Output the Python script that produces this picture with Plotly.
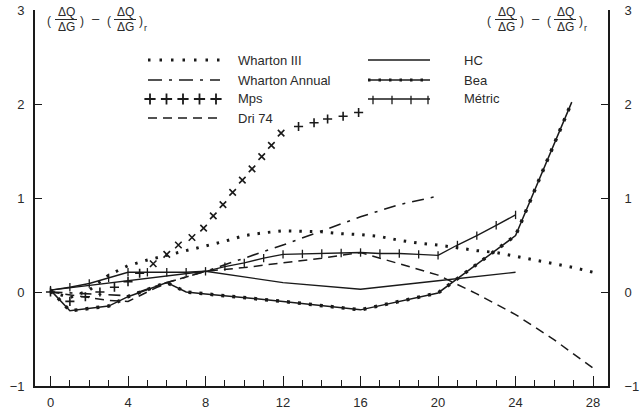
import plotly.graph_objects as go

# ---------------- data ----------------
wharton3_x = [0, 1, 2, 3, 4, 5, 6, 7, 8, 9, 10, 11, 12, 13, 14, 15, 16, 17, 18, 19, 20, 21, 22, 23, 24, 25, 26, 27, 28]
wharton3_y = [0, -0.06, 0.02, 0.18, 0.28, 0.34, 0.39, 0.44, 0.49, 0.54, 0.60, 0.63, 0.65, 0.645, 0.64, 0.62, 0.61, 0.59, 0.55, 0.52, 0.50, 0.47, 0.44, 0.42, 0.38, 0.34, 0.30, 0.26, 0.21]

wannual_x = [0, 2, 4, 6, 8, 10, 12, 14, 16, 18, 20]
wannual_y = [0, -0.02, -0.04, 0.10, 0.22, 0.36, 0.50, 0.65, 0.80, 0.93, 1.02]

mps_x = [0, 1.0, 1.8, 2.55, 3.3, 4.0, 4.6, 5.3, 6.0, 6.6, 7.3, 7.9, 8.4, 8.9, 9.4, 9.9, 10.4, 10.9, 11.4, 11.9, 12.8, 13.6, 14.3, 15.1, 15.9]
mps_y = [0, -0.10, -0.05, 0.0, 0.05, 0.11, 0.20, 0.30, 0.40, 0.50, 0.58, 0.68, 0.81, 0.93, 1.06, 1.19, 1.31, 1.44, 1.56, 1.69, 1.76, 1.80, 1.84, 1.87, 1.91]

dri_x = [0, 1, 2, 3, 4, 5, 6, 7, 8, 10, 12, 14, 16, 18, 20, 22, 24, 26, 28]
dri_y = [0, -0.03, -0.06, -0.09, -0.10, 0.0, 0.10, 0.16, 0.22, 0.26, 0.31, 0.36, 0.42, 0.30, 0.18, -0.02, -0.24, -0.51, -0.81]

hc_x = [0, 4, 8, 12, 16, 20, 24]
hc_y = [0.02, 0.12, 0.22, 0.10, 0.03, 0.12, 0.21]

bea_x = [0, 1, 3, 4, 6, 7, 8, 12, 16, 20, 24, 26.9]
bea_y = [0.02, -0.20, -0.15, -0.05, 0.10, 0.0, -0.02, -0.10, -0.19, -0.01, 0.60, 2.02]

metric_x = [0, 1, 2, 3, 4, 5, 6, 7, 8, 9, 10, 11, 12, 13, 14, 15, 16, 17, 18, 19, 20, 21, 22, 23, 24]
metric_y = [0.02, 0.05, 0.09, 0.15, 0.21, 0.21, 0.21, 0.21, 0.22, 0.27, 0.31, 0.36, 0.40, 0.405, 0.41, 0.415, 0.42, 0.41, 0.41, 0.40, 0.39, 0.50, 0.60, 0.71, 0.82]

x_ticks = [0, 4, 8, 12, 16, 20, 24, 28]
y_ticks = [-1, 0, 1, 2, 3]
y_ticktext = ["\u22121", "0", "1", "2", "3"]

legend_left = ["Wharton III", "Wharton Annual", "Mps", "Dri 74"]
legend_right = ["HC", "Bea", "Métric"]

# ---------------- layout geometry (pixels) ----------------
W, H = 643, 412
L, R, T, B = 35, 35, 10, 26
PL, PR, PT, PB = L, W - R, T, H - B
INK = "#1a1a1a"
TXT = "#2a2a2a"
FONT = "Liberation Sans, Arial, sans-serif"


def px(x):
    return (x - PL) / (PR - PL)


def py(y):
    return (PB - y) / (PB - PT)


fig = go.Figure()

# Wharton III - dotted
fig.add_trace(go.Scatter(x=wharton3_x, y=wharton3_y, mode="lines",
                         line=dict(color=INK, width=3, dash="2.5px,8px"), showlegend=False))
# Wharton Annual - dash dot
fig.add_trace(go.Scatter(x=wannual_x, y=wannual_y, mode="lines",
                         line=dict(color=INK, width=1.6, dash="12px,7px,3px,7px"), showlegend=False))
# Mps - crosses
mps_sym = ["x-thin-open" if 5 < xv < 12.5 else "cross-thin-open" for xv in mps_x]
fig.add_trace(go.Scatter(x=mps_x, y=mps_y, mode="markers",
                         marker=dict(symbol=mps_sym, size=6.5, color=INK,
                                     line=dict(color=INK, width=1.6)),
                         showlegend=False))
# Dri 74 - dashed
fig.add_trace(go.Scatter(x=dri_x, y=dri_y, mode="lines",
                         line=dict(color=INK, width=1.5, dash="9px,6px"), showlegend=False))
# HC - solid
fig.add_trace(go.Scatter(x=hc_x, y=hc_y, mode="lines",
                         line=dict(color=INK, width=1.4), showlegend=False))
# Bea - solid with dots
fig.add_trace(go.Scatter(x=bea_x, y=bea_y, mode="lines",
                         line=dict(color=INK, width=1.5), showlegend=False))
fig.add_trace(go.Scatter(x=bea_x, y=bea_y, mode="lines",
                         line=dict(color=INK, width=3.5, dash="3px,8px"), showlegend=False))
# Metric - solid with ticks
fig.add_trace(go.Scatter(x=metric_x, y=metric_y, mode="lines+markers",
                         line=dict(color=INK, width=1.4),
                         marker=dict(symbol="line-ns", size=6, color=INK,
                                     line=dict(color=INK, width=1.3)),
                         showlegend=False))

# ---------------- legend (pixel overlay axes) ----------------
lx0, lx1, ltx = 148, 220, 236
rx0, rx1, rtx = 368, 430, 462
rows = [60, 80, 99, 118]

def leg(xs, ys, **kw):
    fig.add_trace(go.Scatter(x=xs, y=ys, xaxis="x2", yaxis="y3", showlegend=False,
                             hoverinfo="skip", **kw))

leg([lx0, lx1], [rows[0]] * 2, mode="lines", line=dict(color=INK, width=3, dash="2.5px,9px"))
leg([lx0, lx1], [rows[1]] * 2, mode="lines", line=dict(color=INK, width=1.6, dash="14px,7px,3px,7px"))
leg([lx0 + 2 + 16.5 * i for i in range(5)], [rows[2]] * 5, mode="markers",
    marker=dict(symbol="cross-thin-open", size=8, color=INK, line=dict(color=INK, width=1.8)))
leg([lx0, lx1], [rows[3]] * 2, mode="lines", line=dict(color=INK, width=1.5, dash="9px,6px"))

leg([rx0, rx1], [rows[0]] * 2, mode="lines", line=dict(color=INK, width=1.4))
leg([rx0, rx1], [rows[1]] * 2, mode="lines", line=dict(color=INK, width=1.4))
leg([rx0, rx1], [rows[1]] * 2, mode="lines", line=dict(color=INK, width=3, dash="2.5px,8px"))
leg([rx0 + 5, rx0 + 24, rx0 + 43, rx1 - 2], [rows[2] + 1] * 4, mode="markers",
    marker=dict(symbol="line-ns", size=6, color=INK, line=dict(color=INK, width=1.3)))
leg([rx0, rx1], [rows[2]] * 2, mode="lines", line=dict(color=INK, width=1.4))

annotations = []
for i, t in enumerate(legend_left):
    annotations.append(dict(x=px(ltx), y=py(rows[i]), xref="paper", yref="paper", text=t,
                            showarrow=False, xanchor="left", yanchor="middle",
                            font=dict(size=13, color=TXT, family=FONT)))
for i, t in enumerate(legend_right):
    annotations.append(dict(x=px(rtx), y=py(rows[i]), xref="paper", yref="paper", text=t,
                            showarrow=False, xanchor="left", yanchor="middle",
                            font=dict(size=13, color=TXT, family=FONT)))

# ---------------- axis title fractions ----------------
shapes = []

def txt(x, y, t, size=12, anchor="center"):
    annotations.append(dict(x=px(x), y=py(y), xref="paper", yref="paper", text=t,
                            showarrow=False, xanchor=anchor, yanchor="middle",
                            borderpad=0, font=dict(size=size, color=TXT, family=FONT)))

def frac_block(x0):
    # x0 = position of the first "("
    txt(x0, 21, "(", 12, "right")
    txt(x0 + 14, 12, "ΔQ", 12)
    shapes.append(dict(type="line", xref="paper", yref="paper",
                       x0=px(x0 + 3), x1=px(x0 + 25), y0=py(19.5), y1=py(19.5),
                       line=dict(color=TXT, width=1)))
    txt(x0 + 14, 27, "ΔG", 12)
    txt(x0 + 27, 21, ")", 12, "left")
    txt(x0 + 44, 19, "\u2013", 13)
    txt(x0 + 60, 21, "(", 12, "right")
    txt(x0 + 73, 12, "ΔQ", 12)
    shapes.append(dict(type="line", xref="paper", yref="paper",
                       x0=px(x0 + 62), x1=px(x0 + 84), y0=py(19.5), y1=py(19.5),
                       line=dict(color=TXT, width=1)))
    txt(x0 + 73, 27, "ΔG", 12)
    txt(x0 + 86, 21, ")", 12, "left")
    txt(x0 + 91, 28, "r", 9, "left")

frac_block(52)
frac_block(492)

axis_font = dict(size=13, color=TXT, family=FONT)

fig.update_layout(
    width=W, height=H,
    margin=dict(l=L, r=R, t=T, b=B, pad=0, autoexpand=False),
    paper_bgcolor="white", plot_bgcolor="white",
    showlegend=False,
    xaxis=dict(range=[-0.8, 28.77], tickvals=x_ticks, ticks="inside", ticklen=10,
               tickwidth=1.4, tickcolor=INK, showline=True, linecolor=INK, linewidth=1.6,
               showgrid=False, zeroline=False, tickfont=axis_font, ticklabelstandoff=4,
               automargin=False,
               minor=dict(ticks="inside", dtick=1, tick0=0, ticklen=6, tickwidth=1.2,
                          tickcolor=INK, showgrid=False)),
    yaxis=dict(range=[-1, 3], tickvals=y_ticks, ticktext=y_ticktext, ticks="inside",
               ticklen=7, tickwidth=1.4, tickcolor=INK, showline=True, linecolor=INK,
               linewidth=1.6, showgrid=False, zeroline=False, tickfont=axis_font,
               ticklabelstandoff=6, automargin=False),
    yaxis2=dict(range=[-1, 3], tickvals=y_ticks, ticktext=y_ticktext, ticks="inside",
                ticklen=7, tickwidth=1.4, tickcolor=INK, showline=True, linecolor=INK,
                linewidth=1.6, showgrid=False, zeroline=False, tickfont=axis_font,
                overlaying="y", side="right", anchor="x", ticklabelstandoff=12,
                automargin=False),
    xaxis2=dict(range=[PL, PR], visible=False, overlaying="x", anchor="y3", automargin=False),
    yaxis3=dict(range=[PB, PT], visible=False, overlaying="y", anchor="x2", automargin=False),
    annotations=annotations,
    shapes=shapes,
)
# attach a dummy trace to right axis so it renders
fig.add_trace(go.Scatter(x=[None], y=[None], yaxis="y2", showlegend=False))

fig.write_html("out.html")
